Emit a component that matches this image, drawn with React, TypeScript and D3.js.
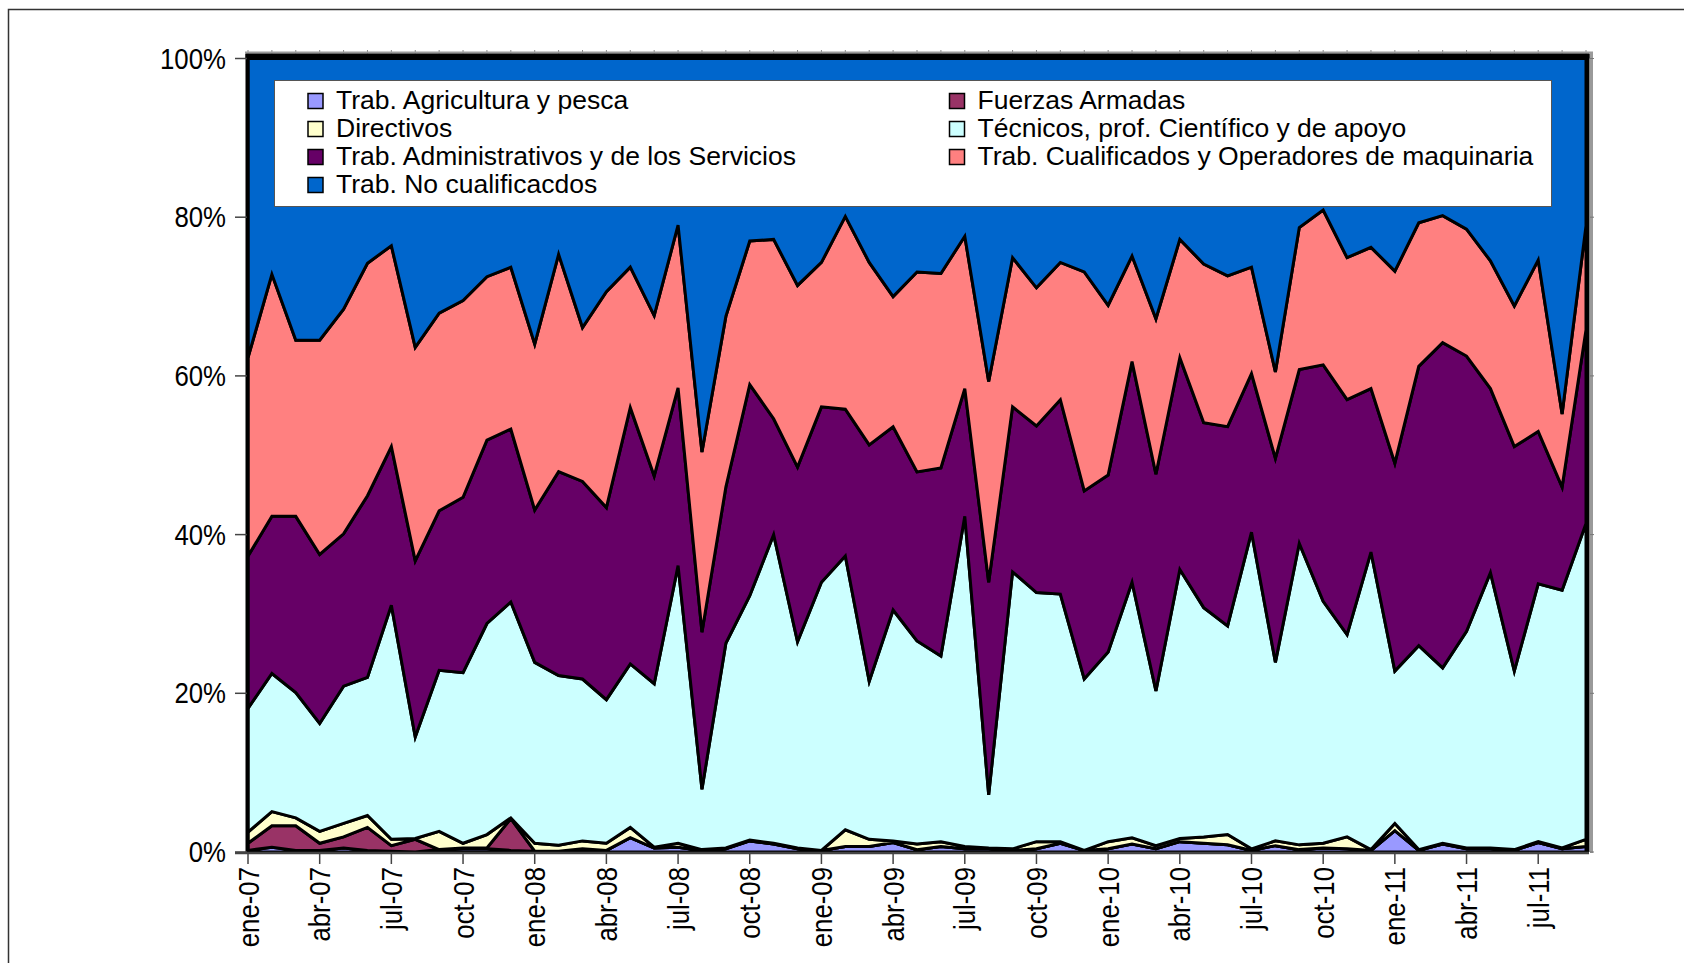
import React from 'react';
import * as d3 from 'd3';

const categories = [
  'ene-07','feb-07','mar-07','abr-07','may-07','jun-07','jul-07','ago-07','sep-07','oct-07','nov-07','dic-07',
  'ene-08','feb-08','mar-08','abr-08','may-08','jun-08','jul-08','ago-08','sep-08','oct-08','nov-08','dic-08',
  'ene-09','feb-09','mar-09','abr-09','may-09','jun-09','jul-09','ago-09','sep-09','oct-09','nov-09','dic-09',
  'ene-10','feb-10','mar-10','abr-10','may-10','jun-10','jul-10','ago-10','sep-10','oct-10','nov-10','dic-10',
  'ene-11','feb-11','mar-11','abr-11','may-11','jun-11','jul-11','ago-11','sep-11'
];

const xTickLabels = [
  'ene-07','abr-07','jul-07','oct-07','ene-08','abr-08','jul-08','oct-08','ene-09','abr-09','jul-09',
  'oct-09','ene-10','abr-10','jul-10','oct-10','ene-11','abr-11','jul-11'
];

const yTicks = [0, 0.2, 0.4, 0.6, 0.8, 1];

const agricultura = [
  0.2,0.6,0.2,0.2,0.5,0.2,0.1,0.0,0.3,0.4,0.4,0.2,
  0.1,0.1,0.4,0.2,1.8,0.5,0.6,0.2,0.4,1.4,1.0,0.4,
  0.2,0.7,0.7,1.2,0.3,0.7,0.4,0.4,0.2,0.4,1.1,0.2,
  0.4,1.0,0.4,1.3,1.1,0.9,0.2,0.8,0.3,0.5,0.4,0.2,
  2.7,0.2,1.0,0.4,0.4,0.2,1.2,0.4,0.7
];
const fuerzasArmadas = [
  0.9,2.7,3.1,0.9,1.4,2.9,0.7,1.6,0,0.1,0.1,4.0,
  0,0,0,0,0,0,0,0,0,0,0,0,
  0,0,0,0,0,0,0,0,0,0,0,0,
  0,0,0,0,0,0,0,0,0,0,0,0,
  0,0,0,0,0,0,0,0,0
];
const directivos = [
  1.4,1.8,1.0,1.5,1.7,1.5,0.8,0.1,2.3,0.6,1.7,0.1,
  1.0,0.75,1.0,0.9,1.3,0.1,0.5,0.1,0.1,0.1,0.1,0.1,
  0,2.1,0.9,0.2,0.7,0.6,0.3,0.1,0.2,0.9,0.2,0,
  0.9,0.8,0.4,0.4,0.8,1.3,0.2,0.6,0.6,0.6,1.5,0.1,
  0.9,0.1,0.1,0.1,0.1,0.1,0.1,0.1,0.9
];
const tecnicos = [
  15.6,17.4,15.8,13.6,17.3,17.4,29.5,12.8,20.3,21.5,26.6,27.2,
  22.8,21.4,20.4,18.1,20.6,20.6,35.0,7.6,25.8,30.8,38.9,26.0,
  33.8,34.5,19.9,29.1,25.6,23.4,41.6,6.7,34.9,31.4,31.2,21.6,
  23.9,32.2,19.5,33.9,28.9,26.3,39.9,22.5,38.0,30.5,25.5,37.5,
  19.2,25.7,22.1,27.3,34.7,22.5,32.5,32.5,39.8
];
const administrativos = [
  19.2,19.8,22.2,21.3,19.2,22.9,20.0,22.2,20.1,22.1,23.1,21.8,
  19.2,25.7,24.9,24.2,32.3,26.2,22.4,19.8,19.7,26.6,14.6,22.0,
  22.1,18.5,29.8,23.1,21.3,23.7,16.1,26.8,20.8,21.0,24.5,23.7,
  22.3,27.8,27.3,26.7,23.3,25.1,20.0,25.7,21.9,29.8,29.6,20.6,
  26.2,35.2,41.0,34.7,23.2,28.3,19.2,13.0,24.4
];
const cualificados = [
  25.0,30.5,22.2,27.0,28.3,29.3,25.3,26.9,24.9,24.8,20.6,20.4,
  20.9,27.4,19.4,27.2,17.7,20.2,20.5,22.7,21.5,18.1,22.6,22.9,
  18.2,24.3,23.0,16.4,25.2,24.5,19.2,25.3,18.8,17.4,17.3,27.6,
  21.4,13.3,19.6,14.9,20.0,19.0,13.4,10.9,17.9,19.5,17.9,17.8,
  24.2,18.1,16.0,16.0,16.1,17.7,21.6,9.2,13.1
];
const noCualificados = [
  37.7,27.2,35.5,35.5,31.6,25.8,23.6,36.4,32.1,30.5,27.5,26.3,
  36.0,24.7,33.9,29.4,26.3,32.4,21.0,49.6,32.5,23.0,22.8,28.6,
  25.7,19.9,25.7,30.0,26.9,27.1,22.4,40.7,25.1,28.9,25.7,26.9,
  31.1,24.9,32.8,22.8,25.9,27.4,26.3,39.5,21.3,19.1,25.1,23.8,
  26.8,20.7,19.8,21.5,25.5,31.2,25.4,44.8,21.1
];

const seriesKeys = ['agr', 'fza', 'dir', 'tec', 'adm', 'cua', 'noc'];
const seriesNames = [
  'Trab. Agricultura y pesca',
  'Fuerzas Armadas',
  'Directivos',
  'Técnicos, prof. Científico y de apoyo',
  'Trab. Administrativos y de los Servicios',
  'Trab. Cualificados y Operadores de maquinaria',
  'Trab. No cualificacdos'
];
const seriesColors = ['#9999FF', '#993366', '#FFFFCC', '#CCFFFF', '#660066', '#FF8080', '#0066CC'];
const seriesValues = [agricultura, fuerzasArmadas, directivos, tecnicos, administrativos, cualificados, noCualificados];

const W = 1684;
const H = 963;
const X0 = 248;
const X1 = 1586;
const YB = 852;
const YT = 58.5;
const FONT = '"Liberation Sans", Arial, Helvetica, sans-serif';
const AXIS_SCALE = 0.86;

export default function App() {
  const table = categories.map((c, i) => {
    const row: any = { cat: c };
    seriesKeys.forEach((k, j) => { row[k] = seriesValues[j][i]; });
    return row;
  });
  const stacked = d3.stack<any>().keys(seriesKeys).offset(d3.stackOffsetExpand)(table);

  const x = d3.scalePoint<string>().domain(categories).range([X0, X1]);
  const y = d3.scaleLinear().domain([0, 1]).range([YB, YT]);

  const area = d3.area<any>()
    .x((d: any) => x(d.data.cat) as number)
    .y0((d: any) => y(d[0]))
    .y1((d: any) => y(d[1]));

  const pctFmt = d3.format('.0%');

  const legendCols = [308, 949.5];
  const legendRows = [108.5, 136.5, 164.5, 192.5];

  return (
    <svg width={W} height={H} style={{ position: 'absolute', left: 0, top: 0, background: '#fff' }}
      fontFamily={FONT}>
      <rect x={8.5} y={9.5} width={1700} height={1000} fill="none" stroke="#333" strokeWidth={1.5} />

      {/* top depth ticks */}
      {categories.map((c) => (
        <line key={'tt' + c} x1={x(c)} x2={x(c)} y1={50} y2={53.5} stroke="#888" strokeWidth={1} />
      ))}
      {/* shadow */}
      <line x1={245} x2={1593} y1={52.5} y2={52.5} stroke="#9a9a9a" strokeWidth={2} />
      <line x1={1591.5} x2={1591.5} y1={52} y2={853} stroke="#9a9a9a" strokeWidth={3} />
      {yTicks.map((t) => (
        <line key={'rt' + t} x1={1590} x2={1594} y1={y(t)} y2={y(t)} stroke="#777" strokeWidth={1} />
      ))}

      {stacked.map((layer, i) => (
        <path key={seriesKeys[i]} d={area(layer as any) || ''} fill={seriesColors[i]}
          stroke="#000" strokeWidth={3} strokeLinejoin="miter" />
      ))}

      {/* plot frame */}
      <line x1={245.5} x2={1589.5} y1={56} y2={56} stroke="#000" strokeWidth={5} />
      <line x1={1587.5} x2={1587.5} y1={54} y2={852} stroke="#000" strokeWidth={4} />
      <line x1={247.5} x2={247.5} y1={54} y2={853} stroke="#000" strokeWidth={4} />
      <line x1={235} x2={1589} y1={853} y2={853} stroke="#444" strokeWidth={2.5} />

      {/* y axis */}
      {yTicks.map((t) => (
        <g key={'yt' + t}>
          <line x1={235} x2={247} y1={y(t)} y2={y(t)} stroke="#444" strokeWidth={1.5} />
          <text transform={`translate(226,${y(t) + 10}) scale(${AXIS_SCALE},1)`} textAnchor="end"
            fontSize={30} fill="#000">{pctFmt(t)}</text>
        </g>
      ))}

      {/* x axis */}
      {xTickLabels.map((lab) => {
        const xp = x(lab) as number;
        return (
          <g key={'xt' + lab}>
            <line x1={xp} x2={xp} y1={853} y2={864} stroke="#444" strokeWidth={1.5} />
            <text transform={`translate(${xp + 10.5},867) rotate(-90) scale(${AXIS_SCALE},1)`} textAnchor="end"
              fontSize={30} fill="#000">{lab}</text>
          </g>
        );
      })}

      {/* legend */}
      <rect x={274.5} y={80.5} width={1277} height={126} fill="#fff" stroke="#555" strokeWidth={1} />
      {seriesNames.map((name, i) => {
        const cx = legendCols[i % 2];
        const by = legendRows[Math.floor(i / 2)];
        return (
          <g key={'lg' + i}>
            <rect x={cx} y={by - 15} width={15} height={15} fill={seriesColors[i]} stroke="#000" strokeWidth={1.5} />
            <text x={cx + 28} y={by} fontSize={26.5} fill="#000">{name}</text>
          </g>
        );
      })}
    </svg>
  );
}
